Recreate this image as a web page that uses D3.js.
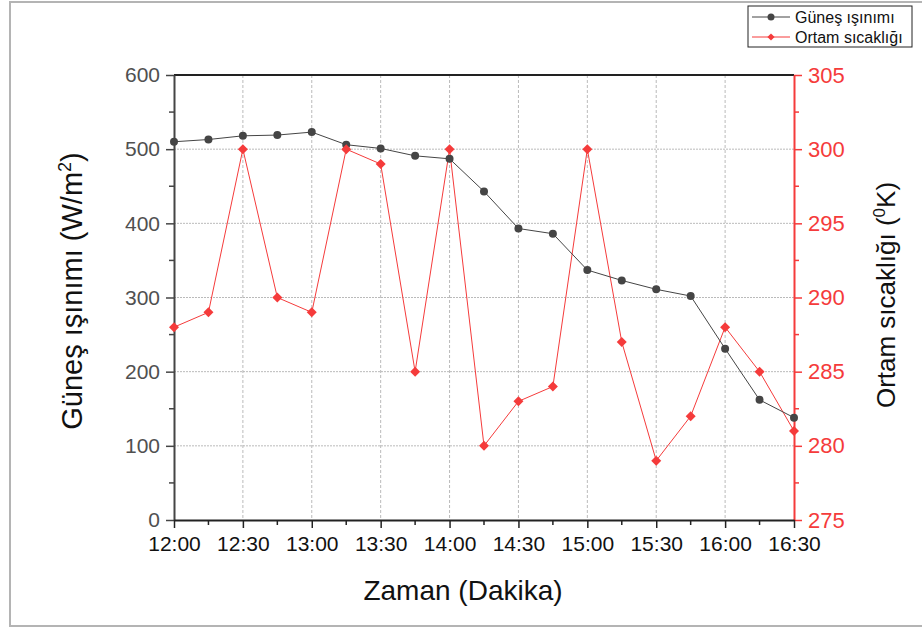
<!DOCTYPE html>
<html>
<head>
<meta charset="utf-8">
<script src="https://d3js.org/d3.v7.min.js"></script>
<style>
  body { margin: 0; background: #fff; }
  text { font-family: "Liberation Sans", Arial, sans-serif; }
</style>
</head>
<body>
<svg width="922" height="628"></svg>
<script>

// zaman etiketleri (15 dk aralik)
var times = ["12:00","12:15","12:30","12:45","13:00","13:15","13:30","13:45","14:00","14:15",
             "14:30","14:45","15:00","15:15","15:30","15:45","16:00","16:15","16:30"];
var radiation = [510, 513, 518, 519, 523, 506, 501, 491, 487, 443,
                 393, 386, 337, 323, 311, 302, 231, 162, 138];
var temperature = [288, 289, 300, 290, 289, 300, 299, 285, 300, 280,
                   283, 284, 300, 287, 279, 282, 288, 285, 281];
var leftTicks = [0, 100, 200, 300, 400, 500, 600];
var rightTicks = [275, 280, 285, 290, 295, 300, 305];

var svg = d3.select("svg");
var pL = 174, pR = 794, pT = 75, pB = 520;
var red = "#f53b3b", dark = "#454545";

// dis cerceve
svg.append("rect").attr("x", 10).attr("y", 2).attr("width", 930).attr("height", 624)
    .attr("fill", "none").attr("stroke", "#b4b4b4").attr("stroke-width", 2);

var x = d3.scaleLinear().domain([0, times.length - 1]).range([pL, pR]);
var yL = d3.scaleLinear().domain([0, 600]).range([pB, pT]);
var yR = d3.scaleLinear().domain([275, 305]).range([pB, pT]);

// grid
var g = svg.append("g");
g.selectAll(".gx").data(d3.range(2, times.length - 1, 2)).enter().append("line")
    .attr("x1", function(d) { return x(d); }).attr("x2", function(d) { return x(d); })
    .attr("y1", pT).attr("y2", pB)
    .attr("stroke", "#a8a8a8").attr("stroke-width", 0.8).attr("stroke-dasharray", "3,2");
g.selectAll(".gy").data(leftTicks.slice(1, -1)).enter().append("line")
    .attr("x1", pL).attr("x2", pR)
    .attr("y1", function(d) { return yL(d); }).attr("y2", function(d) { return yL(d); })
    .attr("stroke", "#a8a8a8").attr("stroke-width", 0.8).attr("stroke-dasharray", "2,1");

// top border
svg.append("line").attr("x1", pL).attr("x2", pR).attr("y1", pT).attr("y2", pT)
    .attr("stroke", "#222").attr("stroke-width", 2);

// left axis
var axL = svg.append("g").attr("transform", "translate(" + pL + ",0)")
    .call(d3.axisLeft(yL).tickValues(leftTicks).tickSize(8).tickPadding(6).tickSizeOuter(0));
axL.select(".domain").attr("stroke", dark).attr("stroke-width", 2);
axL.selectAll(".tick line").attr("stroke", dark).attr("stroke-width", 1.5);
axL.selectAll("text").attr("fill", "#505050").style("font-size", "21px");
svg.append("g").selectAll("line").data(d3.range(50, 600, 100)).enter().append("line")
    .attr("x1", pL - 5).attr("x2", pL)
    .attr("y1", function(d) { return yL(d); }).attr("y2", function(d) { return yL(d); })
    .attr("stroke", dark).attr("stroke-width", 1.5);

// right axis
var axR = svg.append("g").attr("transform", "translate(" + pR + ",0)")
    .call(d3.axisRight(yR).tickValues(rightTicks).tickSize(8).tickPadding(6).tickSizeOuter(0));
axR.select(".domain").attr("stroke", red).attr("stroke-width", 2);
axR.selectAll(".tick line").attr("stroke", red).attr("stroke-width", 1.5);
axR.selectAll("text").attr("fill", red).style("font-size", "22px");
svg.append("g").selectAll("line").data(d3.range(277.5, 305, 5)).enter().append("line")
    .attr("x1", pR).attr("x2", pR + 5)
    .attr("y1", function(d) { return yR(d); }).attr("y2", function(d) { return yR(d); })
    .attr("stroke", red).attr("stroke-width", 1.5);

// bottom axis
var axB = svg.append("g").attr("transform", "translate(0," + pB + ")")
    .call(d3.axisBottom(x).tickValues(d3.range(0, times.length, 2))
      .tickFormat(function(i) { return times[i]; }).tickSize(8).tickPadding(8).tickSizeOuter(0));
axB.select(".domain").attr("stroke", "#222").attr("stroke-width", 2);
axB.selectAll(".tick line").attr("stroke", "#222").attr("stroke-width", 1.5);
axB.selectAll("text").attr("fill", "#111").style("font-size", "21px");
svg.append("g").selectAll("line").data(d3.range(1, times.length, 2)).enter().append("line")
    .attr("x1", function(d) { return x(d); }).attr("x2", function(d) { return x(d); })
    .attr("y1", pB).attr("y2", pB + 5)
    .attr("stroke", "#222").attr("stroke-width", 1.5);

// series
var lineL = d3.line().x(function(d, i) { return x(i); }).y(function(d) { return yL(d); });
var lineR = d3.line().x(function(d, i) { return x(i); }).y(function(d) { return yR(d); });

svg.append("path").datum(temperature).attr("d", lineR)
    .attr("fill", "none").attr("stroke", red).attr("stroke-width", 1);
svg.append("path").datum(radiation).attr("d", lineL)
    .attr("fill", "none").attr("stroke", dark).attr("stroke-width", 1);

svg.append("g").selectAll("circle").data(radiation).enter().append("circle")
    .attr("cx", function(d, i) { return x(i); }).attr("cy", function(d) { return yL(d); })
    .attr("r", 4).attr("fill", dark);
var diamond = d3.symbol().type(d3.symbolSquare).size(50);
svg.append("g").selectAll("path").data(temperature).enter().append("path")
    .attr("d", diamond)
    .attr("transform", function(d, i) { return "translate(" + x(i) + "," + yR(d) + ") rotate(45)"; })
    .attr("fill", red);

// axis titles
svg.append("text").attr("x", 463).attr("y", 600).attr("text-anchor", "middle")
    .style("font-size", "28px").attr("fill", "#111").text("Zaman (Dakika)");

var tl = svg.append("text").attr("transform", "translate(82,291) rotate(-90)")
    .attr("text-anchor", "middle").style("font-size", "29px").attr("fill", "#111");
tl.append("tspan").text("Güneş ışınımı (W/m");
tl.append("tspan").attr("dy", -11).style("font-size", "18px").text("2");
tl.append("tspan").attr("dy", 11).text(")");

var tr = svg.append("text").attr("transform", "translate(895,295) rotate(-90)")
    .attr("text-anchor", "middle").style("font-size", "26px").attr("fill", "#111");
tr.append("tspan").text("Ortam sıcaklığı (");
tr.append("tspan").attr("dy", -10).style("font-size", "17px").text("0");
tr.append("tspan").attr("dy", 10).text("K)");

// legend
var lg = svg.append("g").attr("transform", "translate(748,6)");
lg.append("rect").attr("width", 164).attr("height", 41)
    .attr("fill", "#fff").attr("stroke", "#222").attr("stroke-width", 1);
var legendItems = [
  { name: "Güneş ışınımı", color: dark, shape: "circle" },
  { name: "Ortam sıcaklığı", color: red, shape: "diamond" }
];
legendItems.forEach(function(d, i) {
  var yy = 11 + i * 20;
  lg.append("line").attr("x1", 4).attr("x2", 42).attr("y1", yy).attr("y2", yy)
      .attr("stroke", d.color).attr("stroke-width", 1);
  if (d.shape == "circle") {
    lg.append("circle").attr("cx", 23).attr("cy", yy).attr("r", 3.5).attr("fill", d.color);
  } else {
    lg.append("path").attr("d", d3.symbol().type(d3.symbolSquare).size(26))
        .attr("transform", "translate(23," + yy + ") rotate(45)").attr("fill", d.color);
  }
  lg.append("text").attr("x", 47).attr("y", yy + 5.5).style("font-size", "16px")
      .attr("fill", "#111").text(d.name);
});

</script>
</body>
</html>
